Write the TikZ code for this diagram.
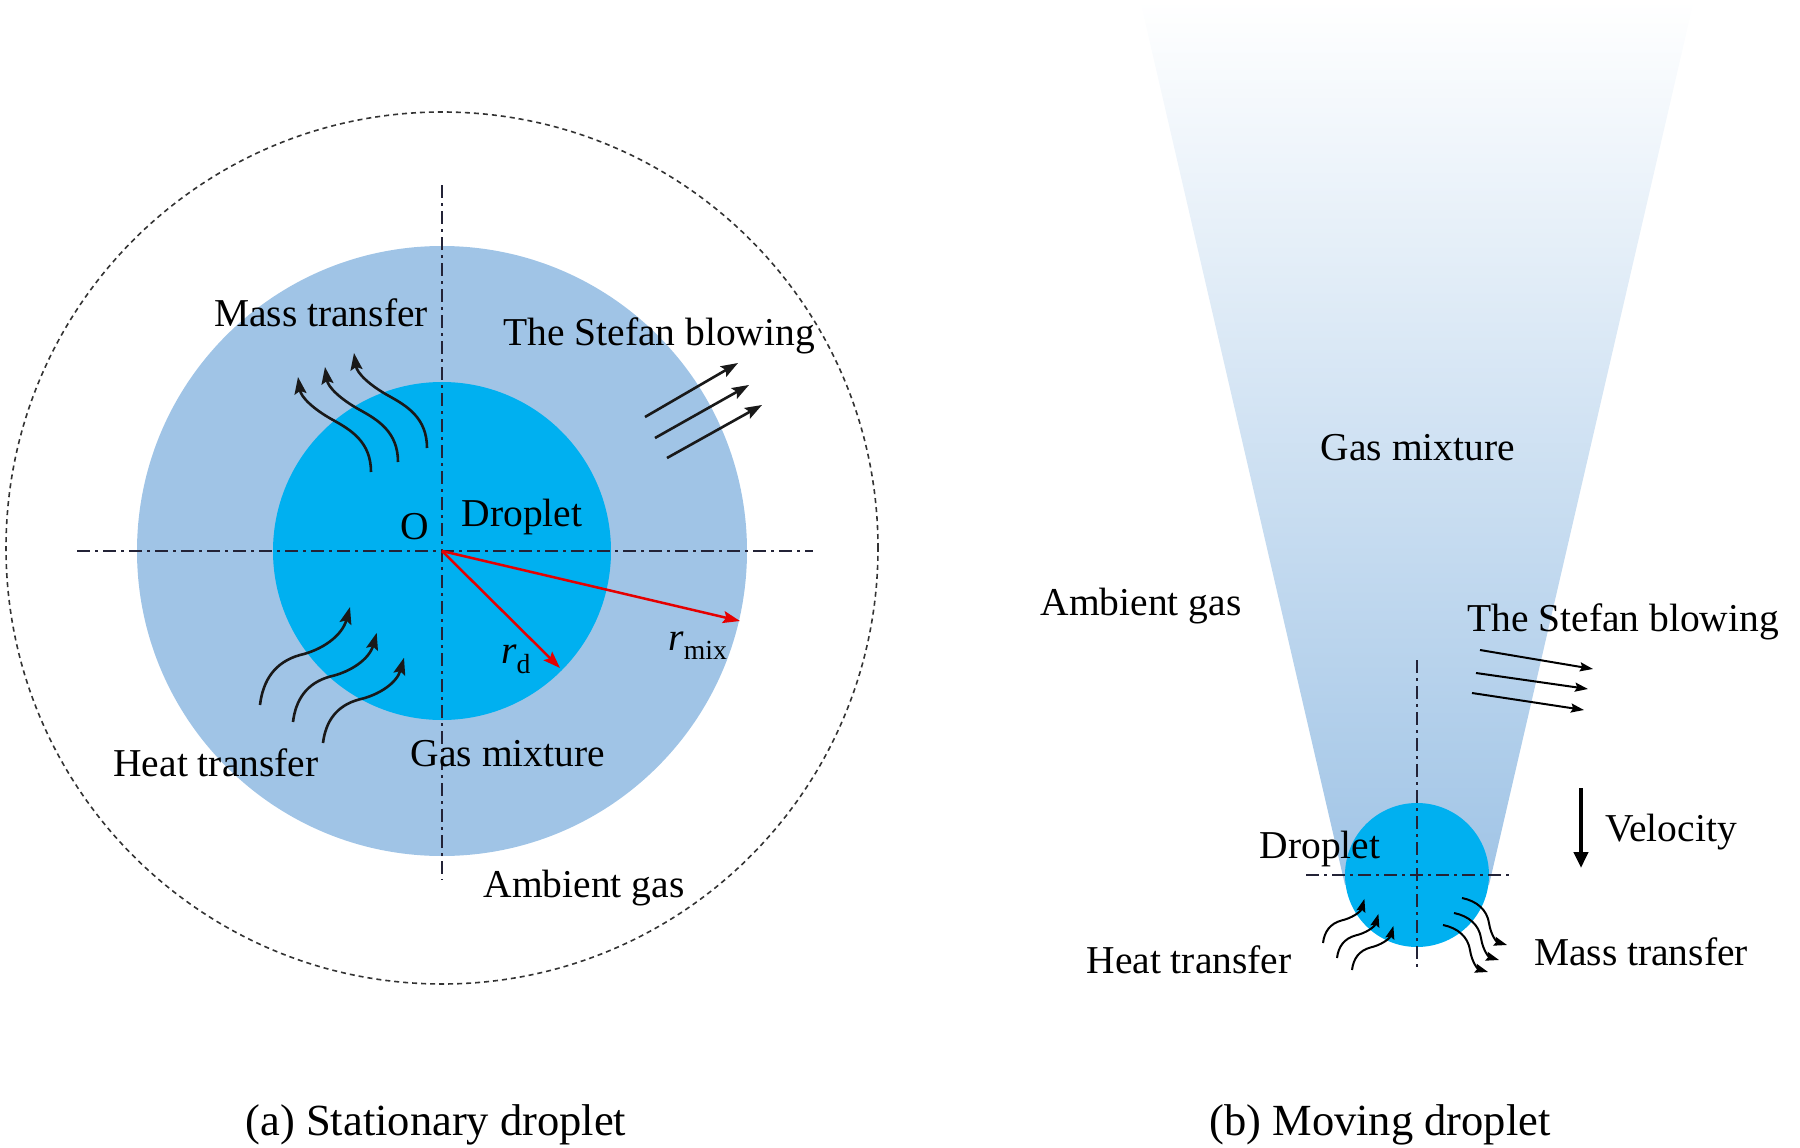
\documentclass[tikz,border=0pt]{standalone}
\usepackage{fontspec}
\setmainfont{Liberation Serif}
\usetikzlibrary{arrows.meta}
\definecolor{gasblue}{RGB}{160,196,230}
\definecolor{dropblue}{RGB}{0,176,240}
\definecolor{axisc}{RGB}{35,35,55}
\tikzset{
  lbl/.style={font=\fontsize{39.5}{47}\selectfont, inner sep=0pt, anchor=base},
  captxt/.style={font=\fontsize{44.5}{53}\selectfont, inner sep=0pt, anchor=base},
  axisline/.style={draw=axisc, line width=1.8pt, dash pattern=on 13pt off 5pt on 3pt off 5pt},
  bound/.style={draw=black!80, line width=1.6pt, dash pattern=on 5pt off 4pt},
  radarrow/.style={draw=red!90!black, line width=2.5pt, -{Stealth[length=17pt,width=12pt,inset=3pt]}},
  flowarrow/.style={draw=black!90, line width=2.6pt, -{Stealth[length=17pt,width=12pt,inset=3pt]}},
  smallflow/.style={draw=black, line width=2pt, -{Stealth[length=13pt,width=9pt,inset=2pt]}},
  velarrow/.style={draw=black, line width=4.5pt, -{Triangle[length=16pt,width=14pt]}},
}
\begin{document}
\begin{tikzpicture}[x=1pt,y=-1pt]
\useasboundingbox (0,0) rectangle (1800,1148);

% ================= (a) Stationary droplet =================
\coordinate (O) at (442,551);
\fill[gasblue] (O) circle[radius=305pt];
\fill[dropblue] (O) circle[radius=169pt];
\coordinate (Oc) at (442,548);
\draw[bound] (Oc) circle[radius=436pt];

\coordinate (hl) at (77,551);
\coordinate (hr) at (813,551);
\coordinate (vt) at (442,185);
\coordinate (vb) at (442,880);
\draw[axisline] (hl) -- (hr);
\draw[axisline] (vt) -- (vb);

\coordinate (rdtip) at (560,668);
\coordinate (rmixtip) at (740,621);
\draw[radarrow] (O) -- (rdtip);
\draw[radarrow] (O) -- (rmixtip);

% mass transfer arrows
\foreach \sx/\sy [count=\i] in {371/472, 398/462, 427/448} {
  \begin{scope}[shift={(\sx,\sy)}]
    \coordinate (mtail\i) at (0,0);
    \coordinate (mtip\i) at (-73,-95);
    \draw[flowarrow] (mtail\i) .. controls (0,-30) and (-20,-42) .. (-38,-52)
      .. controls (-58,-63) and (-70,-75) .. (mtip\i);
  \end{scope}
}
% heat transfer arrows
\foreach \sx/\sy/\fx/\fy [count=\i] in {260/705/1/1, 293/722/0.93/0.91, 323/743/0.9/0.87} {
  \begin{scope}[shift={(\sx,\sy)}, xscale=\fx, yscale=\fy]
    \coordinate (htail\i) at (0,0);
    \coordinate (htip\i) at (90,-98);
    \draw[flowarrow] (htail\i) .. controls (3,-25) and (15,-43) .. (40,-50)
      .. controls (62,-55) and (82,-69) .. (htip\i);
  \end{scope}
}
% Stefan blowing arrows
\coordinate (sa1) at (645,417); \coordinate (sb1) at (738,363);
\coordinate (sa2) at (655,438); \coordinate (sb2) at (749,385);
\coordinate (sa3) at (667,458); \coordinate (sb3) at (762,405);
\draw[flowarrow] (sa1) -- (sb1);
\draw[flowarrow] (sa2) -- (sb2);
\draw[flowarrow] (sa3) -- (sb3);

\node[lbl] (mtL) at (321,326) {Mass transfer};
\node[lbl] (stL) at (659,345) {The Stefan blowing};
\node[lbl] (oL) at (415,539) {O};
\node[lbl] (dL) at (522,526) {Droplet};
\node[lbl] (rdL) at (516,663) {{\itshape r}\textsubscript{d}};
\node[lbl] (rmL) at (698,650) {{\itshape r}\textsubscript{mix}};
\node[lbl] (htL) at (216,776) {Heat transfer};
\node[lbl] (gmL) at (508,766) {Gas mixture};
\node[lbl] (agL) at (584,897) {Ambient gas};
\node[captxt] (capA) at (436,1135) {(a) Stationary droplet};

% ================= (b) Moving droplet =================
\coordinate (D) at (1417,875);
\shade[top color=white, bottom color=gasblue]
  (1140,0) -- (1694,0) -- (1489,885) -- (1345,885) -- cycle;
\fill[dropblue] (D) circle[radius=72pt];

\coordinate (bhl) at (1306,875);
\coordinate (bhr) at (1513,875);
\coordinate (bvt) at (1417,660);
\coordinate (bvb) at (1417,970);
\draw[axisline] (bhl) -- (bhr);
\draw[axisline] (bvt) -- (bvb);

% Stefan blowing arrows
\coordinate (ta1) at (1480,650); \coordinate (tb1) at (1593,669);
\coordinate (ta2) at (1476,673); \coordinate (tb2) at (1588,689);
\coordinate (ta3) at (1472,693); \coordinate (tb3) at (1584,710);
\draw[smallflow] (ta1) -- (tb1);
\draw[smallflow] (ta2) -- (tb2);
\draw[smallflow] (ta3) -- (tb3);

% velocity
\coordinate (va) at (1581,788);
\coordinate (vb2) at (1581,868);
\draw[velarrow] (va) -- (vb2);

% small heat transfer arrows
\foreach \sx/\sy [count=\i] in {1323/943, 1337/958, 1352/970} {
  \begin{scope}[shift={(\sx,\sy)}, xscale=0.46, yscale=0.45]
    \coordinate (shtail\i) at (0,0);
    \coordinate (shtip\i) at (90,-98);
    \draw[smallflow] (shtail\i) .. controls (3,-25) and (15,-43) .. (40,-50)
      .. controls (62,-55) and (82,-69) .. (shtip\i);
  \end{scope}
}
% small mass transfer arrows
\foreach \sx/\sy [count=\i] in {1462/898, 1454/913, 1443/925} {
  \begin{scope}[shift={(\sx,\sy)}]
    \coordinate (smtail\i) at (0,0);
    \coordinate (smtip\i) at (45,47);
    \draw[smallflow] (smtail\i) .. controls (15,3) and (25,12) .. (27,25)
      .. controls (29,38) and (35,44) .. (smtip\i);
  \end{scope}
}

\node[lbl] (gmR) at (1418,460) {Gas mixture};
\node[lbl] (agR) at (1141,615) {Ambient gas};
\node[lbl] (stR) at (1623,631) {The Stefan blowing};
\node[lbl] (velR) at (1671,841) {Velocity};
\node[lbl] (dR) at (1320,858) {Droplet};
\node[lbl] (htR) at (1189,973) {Heat transfer};
\node[lbl] (mtR) at (1641,965) {Mass transfer};
\node[captxt] (capB) at (1380,1135) {(b) Moving droplet};
\end{tikzpicture}
\end{document}
